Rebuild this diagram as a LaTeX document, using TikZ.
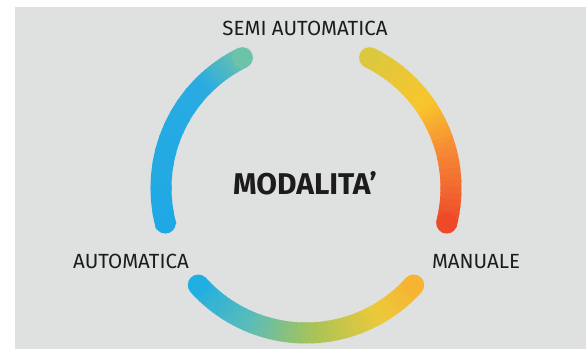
\documentclass[tikz,border=0pt]{standalone}
\usepackage{fontspec}
\setmainfont{Fira Sans}
\usetikzlibrary{calc}
\definecolor{bg}{HTML}{DFE0E0}
\definecolor{txt}{HTML}{1C1C1C}
\definecolor{lA}{HTML}{6DC2AA}
\definecolor{lB}{HTML}{29ABE2}
\definecolor{lC}{HTML}{1FA9E4}
\definecolor{rA}{HTML}{DCC83E}
\definecolor{rB}{HTML}{F8C62C}
\definecolor{rC}{HTML}{F68A34}
\definecolor{rD}{HTML}{EE4A2A}
\definecolor{bA}{HTML}{20AEE3}
\definecolor{bB}{HTML}{5BBDB8}
\definecolor{bC}{HTML}{A5C35A}
\definecolor{bD}{HTML}{EDC93A}
\definecolor{bE}{HTML}{F6B432}
\newcommand\gradseg[4]{%
  \foreach \i in {0,...,11}{%
    \pgfmathsetmacro\ta{#1+(#2-#1)*\i/12}%
    \pgfmathsetmacro\tb{#1+(#2-#1)*(\i+1.3)/12}%
    \pgfmathtruncatemacro\p{100-100*(\i+0.5)/12}%
    \draw[ring, color=#3!\p!#4] ($(O)+(\ta:145)$) arc[start angle=\ta, end angle=\tb, radius=145];
  }}
\newcommand\ringcap[2]{\fill[#2] ($(O)+(#1:145)$) circle (10.5);}
\begin{document}
\begin{tikzpicture}[x=1pt,y=1pt,
  ring/.style={line width=21pt},
  lbl/.style={text=txt, font=\fontsize{20.5}{22}\selectfont, anchor=base, inner sep=0pt},
  ttl/.style={text=txt, font=\fontsize{30}{33}\selectfont\bfseries, anchor=base, inner sep=0pt}]
\useasboundingbox (0,0) rectangle (586,349);
\fill[white] (0,0) rectangle (586,349);
\fill[bg] (15,0) rectangle (586,342);
\coordinate (O) at (306,161);
% left arc
\gradseg{116}{135}{lA}{lB}
\gradseg{135}{194}{lB}{lC}
\ringcap{116}{lA}
\ringcap{194}{lC}
% right arc
\gradseg{64}{35}{rA}{rB}
\gradseg{35}{15}{rB}{rC}
\gradseg{15}{-14}{rC}{rD}
\ringcap{64}{rA}
\ringcap{-14}{rD}
% bottom arc
\gradseg{222}{248}{bA}{bB}
\gradseg{248}{272}{bB}{bC}
\gradseg{272}{300}{bC}{bD}
\gradseg{300}{318}{bD}{bE}
\ringcap{222}{bA}
\ringcap{318}{bE}
% labels
\node[lbl] (semi) at (305,313) {SEMI AUTOMATICA};
\node[ttl] (mod) at (305,155) {MODALITA’};
\node[lbl] (auto) at (131,81) {AUTOMATICA};
\node[lbl] (man) at (476,81) {MANUALE};
\end{tikzpicture}
\end{document}
